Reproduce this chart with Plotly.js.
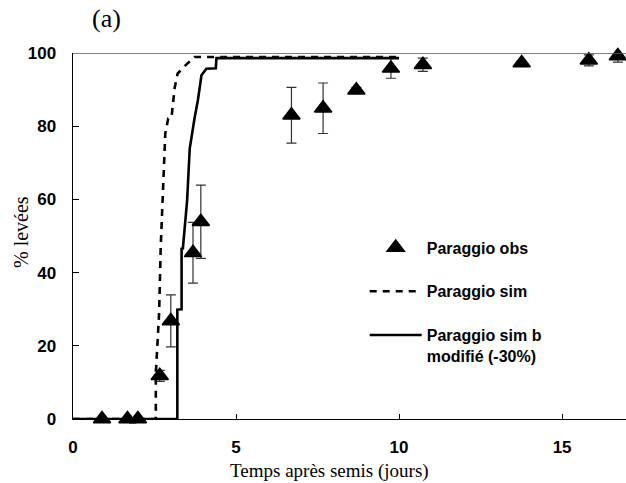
<!DOCTYPE html>
<html>
<head>
<meta charset="utf-8">
<script src="https://cdn.plot.ly/plotly-3.0.1.min.js"></script>
<style>
  html, body { margin: 0; padding: 0; background: #fff; }
  #chart { width: 626px; height: 483px; }
</style>
</head>
<body>
<div id="chart"></div>
<script>
// Observed emergence (Paraggio obs)
var obsDays   = [0.89, 1.67, 1.99, 2.66, 3.0, 3.68, 3.92, 6.70, 7.67, 8.69, 9.75, 10.73, 13.76, 15.82, 16.71];
var obsPct    = [0, 0, 0, 11.8, 26.8, 45.4, 53.9, 83.0, 84.9, 89.8, 95.8, 96.8, 97.3, 98.0, 99.2];
var obsErr    = [0, 0, 0, 1.5, 7.1, 8.3, 10.0, 7.6, 6.9, 0.8, 2.7, 1.8, 0.5, 1.5, 1.7];

// Simulated emergence (Paraggio sim)
var simDays   = [0, 2.54, 2.54, 2.64, 2.69, 2.76, 2.83, 2.92, 3.02, 3.12, 3.21, 3.48, 3.73, 10.0];
var simPct    = [0, 0, 12.4, 28.8, 46.9, 63.3, 78.0, 82.1, 82.3, 90.6, 94.4, 96.9, 98.9, 98.9];

// Simulated emergence, b modified -30% (Paraggio sim b modifié)
var simBDays  = [0, 3.20, 3.20, 3.33, 3.33, 3.37, 3.50, 3.58, 3.73, 3.83, 3.94, 4.09, 4.38, 4.40, 10.0];
var simBPct   = [0, 0, 29.9, 30.0, 46.5, 46.6, 59.7, 73.9, 82.3, 87.1, 93.9, 95.7, 95.8, 98.6, 98.6];

var xTicks = [0, 5, 10, 15];
var yTicks = [0, 20, 40, 60, 80, 100];

var serifFont = 'Liberation Serif, Times New Roman, serif';
var sansFont = 'Liberation Sans, Arial, sans-serif';

var traces = [
  {
    x: obsDays, y: obsPct, type: 'scatter', mode: 'markers',
    name: '<b>Paraggio obs</b>', legendgroup: 'a',
    marker: { symbol: 'triangle-up', size: 15, color: '#000', line: { color: '#000', width: 1.5 } },
    error_y: { type: 'data', array: obsErr, visible: true, color: '#333', thickness: 1.2, width: 5 },
    cliponaxis: false
  },
  {
    x: simDays, y: simPct, type: 'scatter', mode: 'lines',
    name: '<b>Paraggio sim</b>', legendgroup: 'b',
    line: { color: '#000', width: 2.6, dash: '7px,6px' },
    cliponaxis: false
  },
  {
    x: simBDays, y: simBPct, type: 'scatter', mode: 'lines',
    name: '<b>Paraggio sim b<br>modifié (-30%)</b>', legendgroup: 'c',
    line: { color: '#000', width: 2.6 },
    cliponaxis: false
  }
];

var layout = {
  width: 626, height: 483,
  margin: { l: 73, r: 0, t: 53, b: 64, pad: 0 },
  paper_bgcolor: '#fff', plot_bgcolor: '#fff',
  showlegend: true,
  legend: {
    x: 0.5275, xanchor: 'left', y: 0.515, yanchor: 'top',
    bgcolor: 'rgba(0,0,0,0)', borderwidth: 0,
    font: { family: sansFont, size: 16, color: '#000' },
    traceorder: 'grouped', tracegroupgap: 20,
    itemwidth: 52, valign: 'top'
  },
  xaxis: {
    range: [0, 16.96], tickvals: xTicks, ticktext: xTicks.map(String),
    ticks: 'inside', ticklen: 5, tickwidth: 1, tickcolor: '#000',
    showline: true, linecolor: '#000', linewidth: 1.3,
    showgrid: false, zeroline: false,
    tickfont: { family: sansFont, size: 17, color: '#000', weight: 'bold' },
    ticklabelstandoff: 12
  },
  yaxis: {
    range: [0, 100], tickvals: yTicks, ticktext: yTicks.map(String),
    ticks: 'inside', ticklen: 6, tickwidth: 1, tickcolor: '#000',
    showline: true, linecolor: '#000', linewidth: 1.5,
    showgrid: false, zeroline: false,
    tickfont: { family: sansFont, size: 17, color: '#000', weight: 'bold' },
    ticklabelstandoff: 12
  },
  shapes: [
    { type: 'line', xref: 'paper', yref: 'y', x0: 0, x1: 1, y0: 100, y1: 100,
      line: { color: '#555', width: 1.5 } }
  ],
  annotations: [
    { text: '(a)', xref: 'paper', yref: 'paper', x: 0.031, y: 1.095,
      xanchor: 'left', yanchor: 'middle', showarrow: false,
      font: { family: serifFont, size: 26, color: '#000' } },
    { text: '% levées', xref: 'paper', yref: 'paper', x: -0.0928, y: 0.51,
      xanchor: 'center', yanchor: 'middle', textangle: -90, showarrow: false,
      font: { family: serifFont, size: 20, color: '#000' } },
    { text: 'Temps après semis (jours)', xref: 'paper', yref: 'paper', x: 0.2797, y: -0.1763,
      xanchor: 'left', yanchor: 'bottom', showarrow: false,
      font: { family: serifFont, size: 19, color: '#000' } }
  ]
};

Plotly.newPlot('chart', traces, layout, { displayModeBar: false, staticPlot: true });
</script>
</body>
</html>
